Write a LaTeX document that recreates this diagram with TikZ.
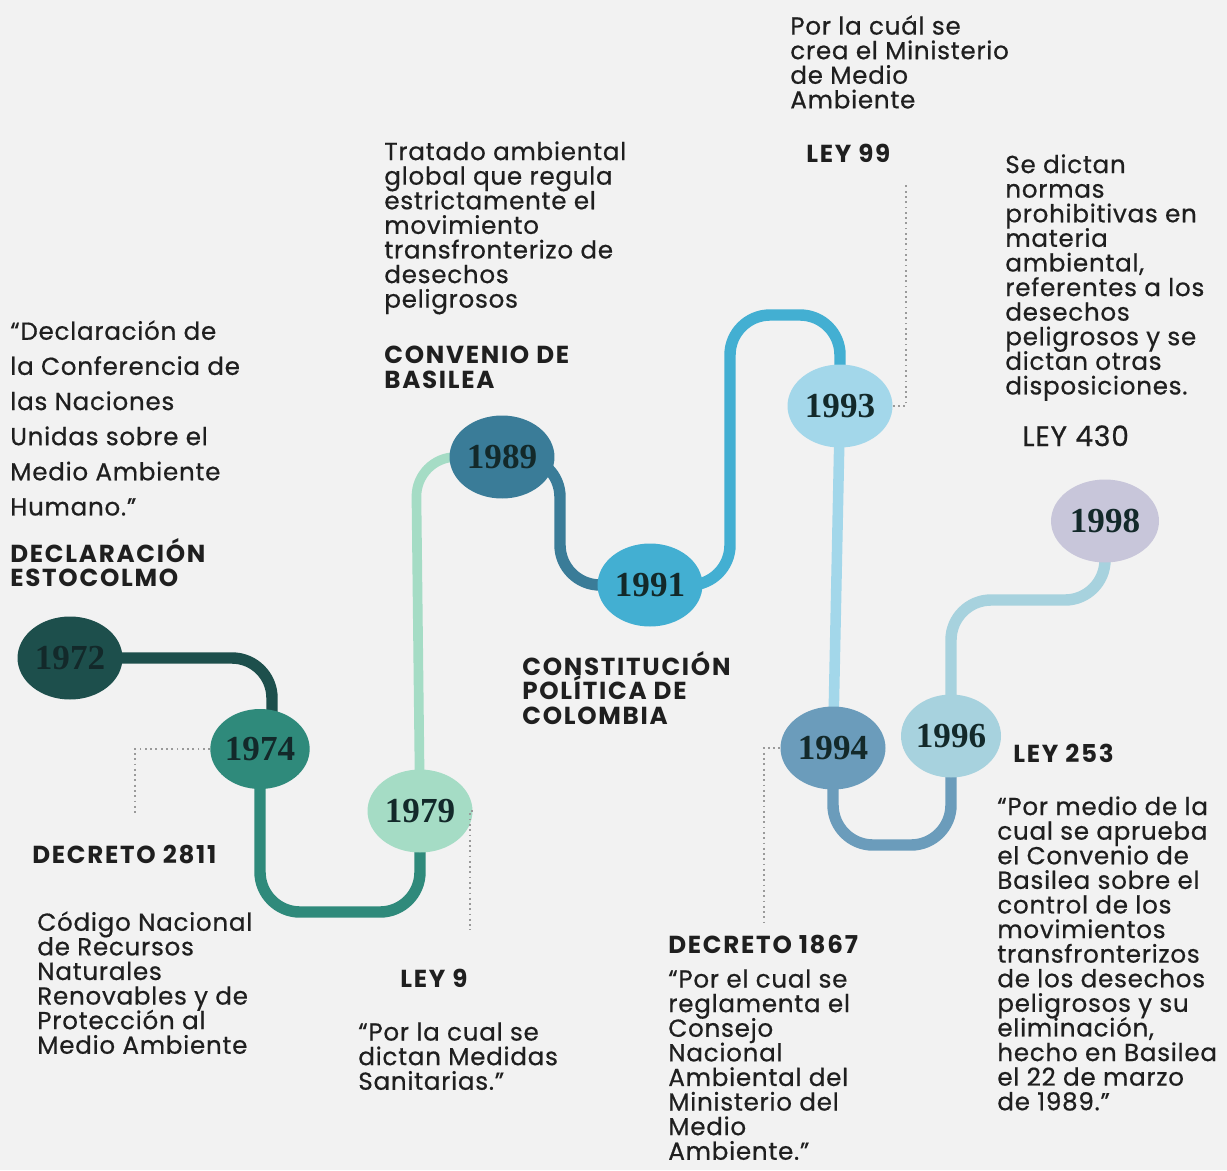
\documentclass[tikz,border=0pt]{standalone}
\usepackage{fontspec}
\setmainfont{Poppins}
\newfontfamily\yearfont{Liberation Serif}
\usetikzlibrary{shapes.geometric}

\definecolor{paper}{HTML}{F2F2F2}
\definecolor{ink}{HTML}{1F1F1F}
\definecolor{yeartxt}{HTML}{13292A}
\definecolor{leadgray}{HTML}{9A9A9A}
\definecolor{c72}{HTML}{1D4F4C}
\definecolor{c74}{HTML}{2F8A7B}
\definecolor{c79}{HTML}{A5DCC5}
\definecolor{c89}{HTML}{3A7C98}
\definecolor{c91}{HTML}{43AFD2}
\definecolor{c93}{HTML}{A3D7EA}
\definecolor{c94}{HTML}{6B9CBB}
\definecolor{c96}{HTML}{A7D2DE}
\definecolor{c98}{HTML}{C8C6DA}

\pgfdeclarelayer{bg}
\pgfdeclarelayer{links}
\pgfsetlayers{bg,links,main}

\newcommand\tightlines{\lineskiplimit=-20pt\lineskip=0pt}

\tikzset{
  year/.style={ellipse, fill=#1, minimum width=2.1cm, minimum height=1.66cm, inner sep=0pt,
    font=\yearfont\bfseries\fontsize{20}{20}\selectfont, text=yeartxt},
  link/.style={draw=#1, line width=6.5pt, rounded corners=0.8cm},
  leader/.style={draw=leadgray, line width=1pt, dotted},
  body/.style={anchor=north west, align=left, inner sep=0pt, text=ink,
    font=\fontsize{14}{14}\selectfont\addfontfeature{LetterSpace=3,FakeBold=0.6}\tightlines},
  head/.style={body, font=\bfseries\fontsize{14}{14}\selectfont\addfontfeature{LetterSpace=7}\tightlines},
}

\begin{document}
\begin{tikzpicture}[x=0.02cm,y=-0.02cm]
\begin{pgfonlayer}{bg}
  \fill[paper] (0,0) rectangle (1227,1170);
\end{pgfonlayer}
\useasboundingbox (0,0) rectangle (1227,1170);

% years
\node[year=c72] (y1972) at (70,658) {1972};
\node[year=c74, minimum width=1.96cm, minimum height=1.6cm] (y1974) at (260,749) {1974};
\node[year=c79] (y1979) at (420,811) {1979};
\node[year=c89] (y1989) at (502,457) {1989};
\node[year=c91] (y1991) at (650,585) {1991};
\node[year=c93] (y1993) at (840,406) {1993};
\node[year=c94] (y1994) at (833,748) {1994};
\node[year=c96, minimum width=2cm] (y1996) at (951,736) {1996};
\node[year=c98, minimum width=2.16cm] (y1998) at (1105,521) {1998};

% line between the years
\begin{pgfonlayer}{links}
  \draw[link=c72] (y1972.center) -| ([xshift=0.24cm]y1974.center);
  \draw[link=c74] (y1974.center) -- (260,912) -- (420,912) -- (y1979.center);
  \draw[link=c79, line width=5.5pt] (y1979.center) -- (416,457) -- (y1989.center);
  \draw[link=c89] (y1989.center) -| (560,585) -- (y1991.center);
  \draw[link=c91] (y1991.center) -| (730,315) -| (y1993.center);
  \draw[link=c93, line width=6pt] (y1993.center) -- (y1994.center);
  \draw[link=c94] (y1994.center) -- (833,845) -- (951,845) -- (y1996.center);
  \draw[link=c96] (y1996.center) -- (951,600) -- (1105,600) -- (y1998.center);
\end{pgfonlayer}

% dotted leaders
\coordinate (e2811) at (135,815);
\coordinate (e9) at (470,930);
\coordinate (e99) at (906,182);
\coordinate (e1867) at (764,922);
\draw[leader] (y1974.west) -| (e2811);
\draw[leader] (y1979.east) -| (e9);
\draw[leader] (y1993.east) -| (e99);
\draw[leader] (y1994.west) -| (e1867);

% texts
\node[body, font=\fontsize{14}{20}\selectfont\addfontfeature{LetterSpace=3,FakeBold=0.6}\tightlines] (estoTxt) at (10,320)
  {“Declaración de\\la Conferencia de\\las Naciones\\Unidas sobre el\\Medio Ambiente\\Humano.”};
\node[head] (esto) at (10,538) {DECLARACIÓN\\ESTOCOLMO};
\node[head] (d2811) at (32,845) {DECRETO 2811};
\node[body] (d2811Txt) at (37,911)
  {Código Nacional\\de Recursos\\Naturales\\Renovables y de\\Protección al\\Medio Ambiente};
\node[head] (ley9) at (400,969) {LEY 9};
\node[body] (ley9Txt) at (358,1022) {“Por la cual se\\dictan Medidas\\Sanitarias.”};
\node[body] (basTxt) at (384,141)
  {Tratado ambiental\\global que regula\\estrictamente el\\movimiento\\transfronterizo de\\desechos\\peligrosos};
\node[head] (bas) at (384,346) {CONVENIO DE\\BASILEA};
\node[head] (cpc) at (522,651) {CONSTITUCIÓN\\POLÍTICA DE\\COLOMBIA};
\node[body] (ley99Txt) at (790,15) {Por la cuál se\\crea el Ministerio\\de Medio\\Ambiente};
\node[head] (ley99) at (806,144) {LEY 99};
\node[body] (ley430Txt) at (1005,154)
  {Se dictan\\normas\\prohibitivas en\\materia\\ambiental,\\referentes a los\\desechos\\peligrosos y se\\dictan otras\\disposiciones.};
\node[body, font=\fontsize{16}{16}\selectfont\addfontfeature{LetterSpace=3,FakeBold=0.6}] (ley430) at (1022,425) {LEY 430};
\node[head] (ley253) at (1013,744) {LEY 253};
\node[body] (ley253Txt) at (997,796)
  {“Por medio de la\\cual se aprueba\\el Convenio de\\Basilea sobre el\\control de los\\movimientos\\transfronterizos\\de los desechos\\peligrosos y su\\eliminación,\\hecho en Basilea\\el 22 de marzo\\de 1989.”};
\node[head] (d1867) at (668,935) {DECRETO 1867};
\node[body] (d1867Txt) at (668,969)
  {“Por el cual se\\reglamenta el\\Consejo\\Nacional\\Ambiental del\\Ministerio del\\Medio\\Ambiente.”};
\end{tikzpicture}
\end{document}
